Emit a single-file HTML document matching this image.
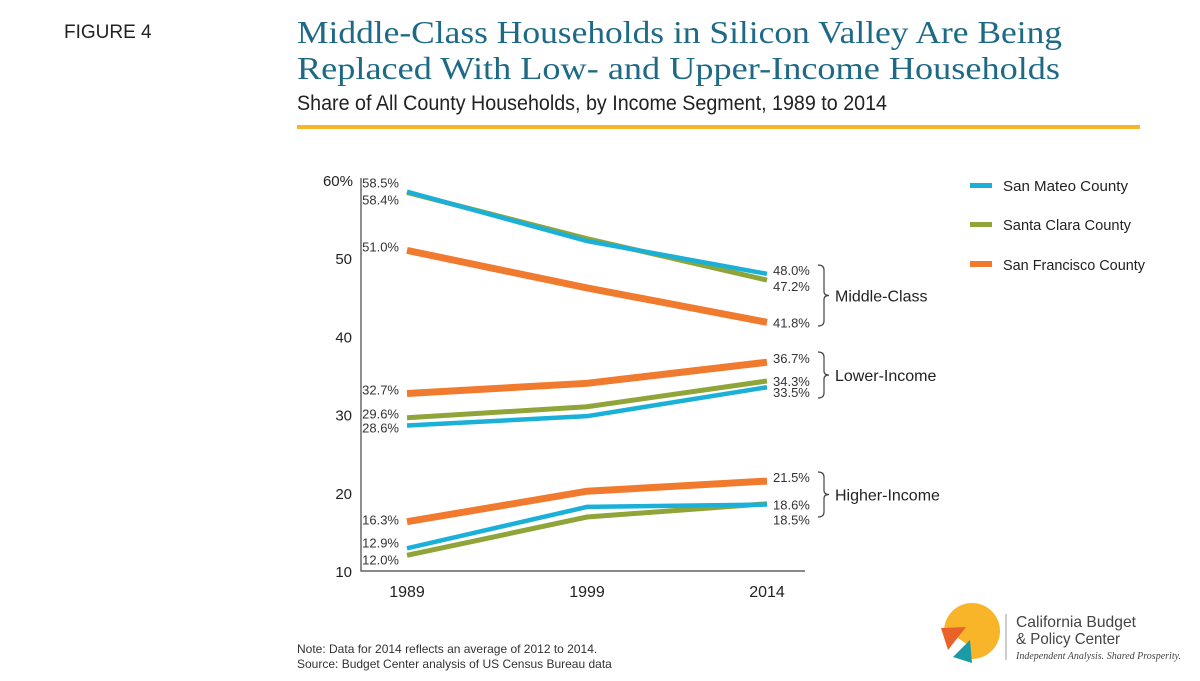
<!DOCTYPE html>
<html><head><meta charset="utf-8"><style>
body{margin:0;background:#fff;}
svg{display:block;}
text{font-family:"Liberation Sans",sans-serif;}
</style></head><body>
<svg id="c" width="1200" height="681" viewBox="0 0 1200 681">
<text x="64" y="38" font-size="19" fill="#222">FIGURE 4</text>
<text x="297" y="43" font-size="32" fill="#1e6a86" textLength="765" lengthAdjust="spacingAndGlyphs" style="font-family:'Liberation Serif',serif">Middle-Class Households in Silicon Valley Are Being</text>
<text x="297" y="79" font-size="32" fill="#1e6a86" textLength="763" lengthAdjust="spacingAndGlyphs" style="font-family:'Liberation Serif',serif">Replaced With Low- and Upper-Income Households</text>
<text x="297" y="110" font-size="21" fill="#222" textLength="590" lengthAdjust="spacingAndGlyphs">Share of All County Households, by Income Segment, 1989 to 2014</text>
<rect x="297" y="125" width="843" height="4" fill="#f9b52a"/>
<g id="plot"></g>
<g>
<g><rect x="970" y="183" width="22" height="5" fill="#1ab0d8"/><text x="1003" y="191" font-size="15" fill="#222" textLength="125" lengthAdjust="spacingAndGlyphs">San Mateo County</text></g>
<g><rect x="970" y="222" width="22" height="5" fill="#8fa53a"/><text x="1003" y="230" font-size="15" fill="#222" textLength="128" lengthAdjust="spacingAndGlyphs">Santa Clara County</text></g>
<g><rect x="970" y="261" width="22" height="6" fill="#f07a2e"/><text x="1003" y="270" font-size="15" fill="#222" textLength="142" lengthAdjust="spacingAndGlyphs">San Francisco County</text></g>
</g>
<text x="297" y="653" font-size="12" fill="#333">Note: Data for 2014 reflects an average of 2012 to 2014.</text>
<text x="297" y="668" font-size="12" fill="#333">Source: Budget Center analysis of US Census Bureau data</text>
<g>
<circle cx="972" cy="631" r="28" fill="#f9b52a"/>
<polygon points="955,636 940,630 948,660 968,645" fill="#fff"/>
<polygon points="941,628 966,627 948,650" fill="#e8622a"/>
<polygon points="953,657 970,640 972,663" fill="#1c9aa5"/>
<line x1="1006" y1="614" x2="1006" y2="660" stroke="#999" stroke-width="1"/>
<text x="1016" y="627" font-size="16" fill="#444" textLength="120" lengthAdjust="spacingAndGlyphs">California Budget</text>
<text x="1016" y="644" font-size="16" fill="#444" textLength="104" lengthAdjust="spacingAndGlyphs">&amp; Policy Center</text>
<text x="1016" y="659" font-size="10" font-style="italic" fill="#444" textLength="165" lengthAdjust="spacingAndGlyphs" style="font-family:'Liberation Serif',serif">Independent Analysis. Shared Prosperity.</text>
</g>
</svg>
<script>
const years = ["1989","1999","2014"];
const yTicks = [10,20,30,40,50,60];
const smMiddle = [58.5,52.2,48.0];
const scMiddle = [58.4,52.5,47.2];
const sfMiddle = [51.0,46.2,41.8];
const smLower = [28.6,29.8,33.5];
const scLower = [29.6,31.0,34.3];
const sfLower = [32.7,34.0,36.7];
const smHigher = [12.9,18.2,18.5];
const scHigher = [12.0,16.9,18.6];
const sfHigher = [16.3,20.2,21.5];

const NS="http://www.w3.org/2000/svg";
const plot=document.getElementById('plot');
const X=i=>407+i*180;
const Y=v=>571-(v-10)*7.82;
function mk(t,a,txt){const e=document.createElementNS(NS,t);for(const k in a)e.setAttribute(k,a[k]);if(txt!=null)e.textContent=txt;plot.appendChild(e);return e;}
const ax=mk('path',{d:`M361,178 V571 H805`,stroke:'#444','stroke-width':1.2,fill:'none'});


yTicks.forEach(t=>{const e=mk('text',{x:t===60?353:352,y:Y(t)+6,'font-size':15,fill:'#222','text-anchor':'end'},t===60?'60%':String(t));

});
years.forEach((y,i)=>{const e=mk('text',{x:X(i),y:597,'font-size':16,fill:'#222','text-anchor':'middle'},y);

});
const series=[
 [sfMiddle,'#f07a2e',7,'sf-middle'],[scMiddle,'#8fa53a',5,'sc-middle'],[smMiddle,'#1ab0d8',4.5,'sm-middle'],
 [sfLower,'#f07a2e',7,'sf-lower'],[scLower,'#8fa53a',5,'sc-lower'],[smLower,'#1ab0d8',4.5,'sm-lower'],
 [sfHigher,'#f07a2e',7,'sf-higher'],[scHigher,'#8fa53a',5,'sc-higher'],[smHigher,'#1ab0d8',4.5,'sm-higher']];
series.forEach(([d,c,w,n])=>{const p=mk('polyline',{points:d.map((v,i)=>X(i)+','+Y(v)).join(' '),fill:'none',stroke:c,'stroke-width':w});

});
function lab(x,y,v,anchor){const e=mk('text',{x:x,y:y,'font-size':13,fill:'#333','text-anchor':anchor},v.toFixed(1)+'%');

}
lab(399,Y(smMiddle[0])-4,smMiddle[0],'end');lab(399,Y(scMiddle[0])+12,scMiddle[0],'end');
lab(399,Y(sfMiddle[0])+1,sfMiddle[0],'end');
lab(399,Y(sfLower[0])+1,sfLower[0],'end');lab(399,Y(scLower[0])+1,scLower[0],'end');lab(399,Y(smLower[0])+7,smLower[0],'end');
lab(399,Y(sfHigher[0])+3,sfHigher[0],'end');lab(399,Y(smHigher[0])-1,smHigher[0],'end');lab(399,Y(scHigher[0])+9,scHigher[0],'end');
lab(773,Y(smMiddle[2])+1,smMiddle[2],'start');lab(773,Y(scMiddle[2])+11,scMiddle[2],'start');lab(773,Y(sfMiddle[2])+5,sfMiddle[2],'start');
lab(773,Y(sfLower[2])+1,sfLower[2],'start');lab(773,Y(scLower[2])+5,scLower[2],'start');lab(773,Y(smLower[2])+10,smLower[2],'start');
lab(773,Y(sfHigher[2])+1,sfHigher[2],'start');lab(773,Y(scHigher[2])+6,scHigher[2],'start');lab(773,Y(smHigher[2])+20,smHigher[2],'start');
function brace(y1,y2,label,n){const m=(y1+y2)/2;
const p=mk('path',{d:`M818,${y1} Q824,${y1} 824,${y1+5} V${m-4} Q824,${m} 829,${m} Q824,${m} 824,${m+4} V${y2-5} Q824,${y2} 818,${y2}`,fill:'none',stroke:'#444','stroke-width':1.2});


const t=mk('text',{x:835,y:m+6,'font-size':16,fill:'#222'},label);

}
brace(265,326,'Middle-Class','middle');brace(352,398,'Lower-Income','lower');brace(472,517,'Higher-Income','higher');
</script>
</body></html>
